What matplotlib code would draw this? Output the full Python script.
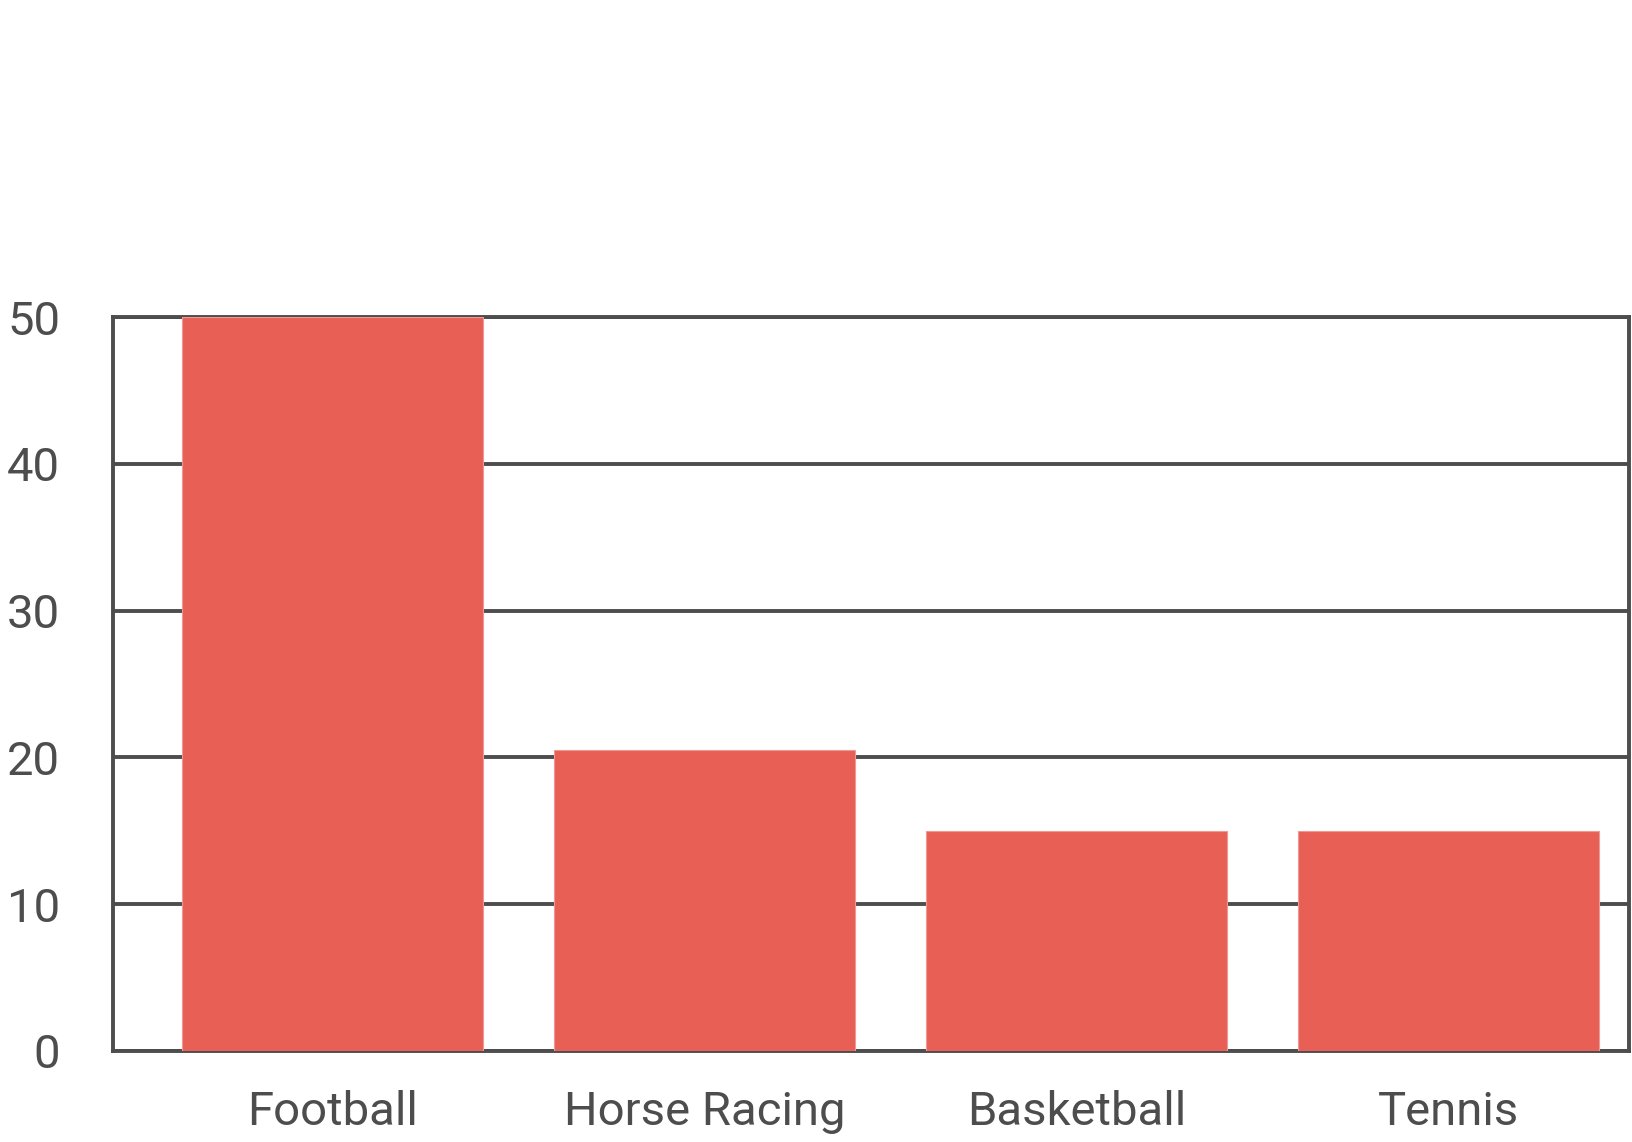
import matplotlib
matplotlib.use('Agg')
import matplotlib.pyplot as plt
import numpy as np

categories = ['Football', 'Horse Racing', 'Basketball', 'Tennis']
values = [50, 20.5, 15, 15]
y_ticks = [0, 10, 20, 30, 40, 50]

bar_col = '#e85f55'
line_col = '#4d4d4d'

plt.rcParams['font.family'] = ['Roboto', 'DejaVu Sans']

fig = plt.figure(figsize=(16.32, 11.42), dpi=100)
ax = fig.add_axes([0.0692, 0.0797, 0.929, 0.6427])

x = np.arange(len(categories))
ax.bar(x, values, width=0.81, color=bar_col, edgecolor='#ee9a94', linewidth=0.8, zorder=3)

ax.set_ylim(0, 50)
ax.set_xlim(-0.59, 3.485)
ax.set_yticks(y_ticks)
ax.set_xticks(x)
ax.set_xticklabels(categories)

# grid behind the bars
ax.yaxis.grid(True, color=line_col, linewidth=2.8, zorder=0)
ax.set_axisbelow(True)
for s in ax.spines.values():
    s.set_color(line_col)
    s.set_linewidth(2.8)

ax.tick_params(axis='both', length=0, labelsize=34, colors=line_col)
ax.tick_params(axis='y', pad=38)
ax.tick_params(axis='x', pad=28)

fig.savefig('out.png', dpi=100)
